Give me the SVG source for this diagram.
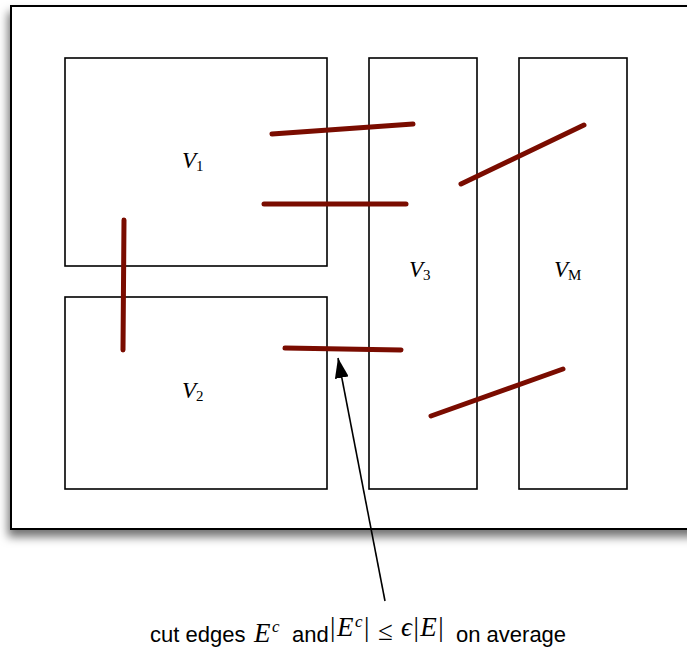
<svg xmlns="http://www.w3.org/2000/svg" width="687" height="651" viewBox="0 0 687 651">
<defs>
<filter id="sh" x="-10%" y="-10%" width="130%" height="130%">
<feDropShadow dx="-2" dy="7" stdDeviation="5" flood-color="#000" flood-opacity="0.55"/>
</filter>
<marker id="ah" markerWidth="20" markerHeight="14" refX="20" refY="7" orient="auto" markerUnits="userSpaceOnUse">
<path d="M0,0 L20,7 L0,14 Z" fill="#000"/>
</marker>
<style>
.box{fill:#fff;stroke:#000;stroke-width:1.6}
.cut{stroke:#7a0c00;stroke-width:5;stroke-linecap:round;fill:none}
.lbl{font-family:"Liberation Serif","DejaVu Serif",serif;font-style:italic;font-size:23px;fill:#000}
.sub{font-family:"Liberation Serif","DejaVu Serif",serif;font-size:15px;font-style:normal}
.cap{font-family:"Liberation Sans",Arial,sans-serif;font-size:22px;fill:#000}
.m{font-family:"Liberation Serif","DejaVu Serif",serif;font-size:27px;fill:#000;letter-spacing:1.5px}
.it{font-style:italic}
.sup{font-style:italic;font-size:17px}
</style>
</defs>
<rect x="11" y="6" width="690" height="523" fill="#fff" stroke="#000" stroke-width="2" filter="url(#sh)"/>
<g id="V1"><rect class="box" x="65" y="58" width="262" height="208"/><text class="lbl" x="182" y="168">V<tspan class="sub" dy="3">1</tspan></text></g>
<g id="V2"><rect class="box" x="65" y="297" width="262" height="192"/><text class="lbl" x="182" y="398">V<tspan class="sub" dy="3">2</tspan></text></g>
<g id="V3"><rect class="box" x="369" y="58" width="108" height="431"/><text class="lbl" x="409" y="277">V<tspan class="sub" dy="3">3</tspan></text></g>
<g id="VM"><rect class="box" x="519" y="58" width="108" height="431"/><text class="lbl" x="554" y="277">V<tspan class="sub" dy="3" font-style="italic">M</tspan></text></g>
<g id="connectors">
<line class="cut" x1="272" y1="134" x2="413" y2="124"/>
<line class="cut" x1="264" y1="204" x2="406" y2="204"/>
<line class="cut" x1="461" y1="184" x2="584" y2="125"/>
<line class="cut" x1="124" y1="220" x2="123" y2="350"/>
<line class="cut" x1="285" y1="348" x2="401" y2="350"/>
<line class="cut" x1="431" y1="416" x2="563" y2="369"/>
<line x1="385" y1="601" x2="338" y2="358" stroke="#000" stroke-width="1.6" marker-end="url(#ah)"/>
</g>
<g id="caption">
<text class="cap" x="150" y="642">cut edges</text>
<text class="m" x="254" y="642"><tspan class="it">E</tspan><tspan class="sup" dy="-10">c</tspan></text>
<text class="cap" x="292" y="642">and</text>
<text class="m" x="330" y="636">|<tspan class="it">E</tspan><tspan class="sup" dy="-9">c</tspan><tspan dy="9">|</tspan></text>
<text class="m" x="378" y="640">≤</text>
<text class="m" x="401" y="636"><tspan class="it">ϵ</tspan>|<tspan class="it">E</tspan>|</text>
<text class="cap" x="456" y="642">on average</text>
</g>
</svg>
